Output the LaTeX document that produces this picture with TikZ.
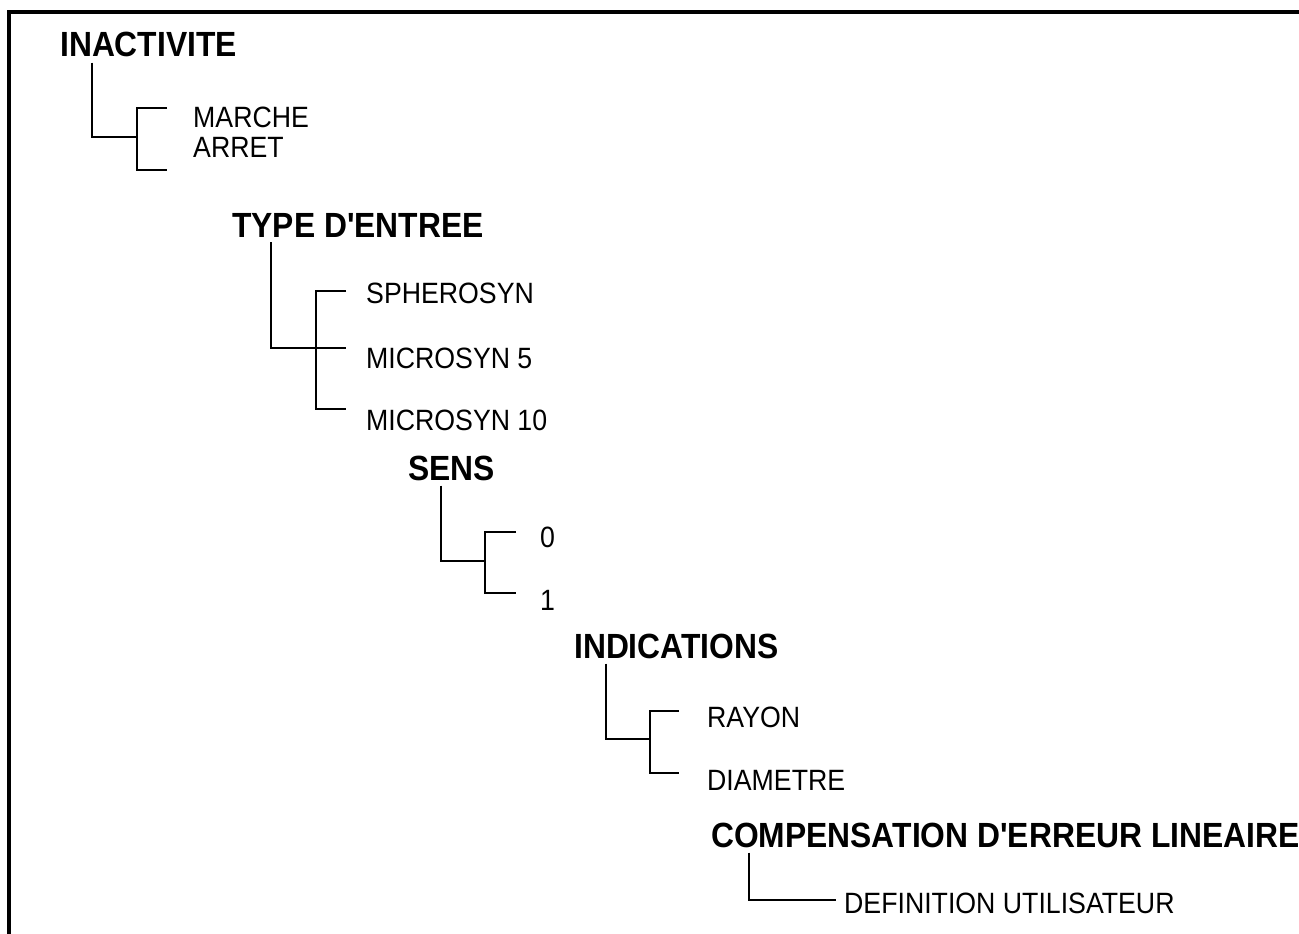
\documentclass[tikz,border=0pt]{standalone}
\usepackage{fontspec}
\usepackage{graphicx}
\setmainfont{Liberation Sans}[Ligatures=TeXOff]
\newcommand\vstr[1]{\scalebox{1}[1.1]{#1}}
\begin{document}
\begin{tikzpicture}[x=1pt,y=-1pt,
  lbl/.style={anchor=base west, inner xsep=0pt, inner ysep=0pt, font=\fontsize{26.7}{30}\selectfont},
  head/.style={anchor=base west, inner xsep=0pt, inner ysep=5pt, font=\bfseries\fontsize{31.8}{36}\selectfont},
  conn/.style={line width=2.9pt, line join=miter},
  frame/.style={line width=3.2pt}]
\useasboundingbox (0,0) rectangle (1299,934);
% frame (top and left edges only)
\coordinate (fa) at (9,936);
\coordinate (fb) at (9,12);
\coordinate (fc) at (1302,12);
\draw[frame] (fa) -- (fb) -- (fc);

% headings
\node[head] (inact) at (60,57) {\vstr{INACTIVITE}};
\node[head] (type) at (232,237) {\vstr{TYPE D'ENTREE}};
\node[head] (sens) at (408,480) {\vstr{SENS}};
\node[head] (indic) at (574,658) {\vstr{INDICATIONS}};
\node[head] (comp) at (711,847) {\vstr{COMPENSATION D'ERREUR LINEAIRE}};

% options
\node[lbl] (marche) at (193,128) {\vstr{MARCHE}};
\node[lbl] (arret) at (193,157) {\vstr{ARRET}};
\node[lbl] (sph) at (366,303) {\vstr{SPHEROSYN}};
\node[lbl] (mic5) at (366,368) {\vstr{MICROSYN 5}};
\node[lbl] (mic10) at (366,430) {\vstr{MICROSYN 10}};
\node[lbl] (zero) at (540,547) {\vstr{0}};
\node[lbl] (one) at (540,610) {\vstr{1}};
\node[lbl] (rayon) at (707,727) {\vstr{RAYON}};
\node[lbl] (diam) at (707,790) {\vstr{DIAMETRE}};
\node[lbl] (defu) at (844,913) {\vstr{DEFINITION UTILISATEUR}};

% tree 1
\coordinate (c1) at (92,137);
\coordinate (m1) at (137,137);
\coordinate (t1a) at (167,108);
\coordinate (t1b) at (167,170);
\draw[conn] (c1 |- inact.south) -- (c1) -- (m1);
\draw[conn] (t1a) -| (m1) |- (t1b);

% tree 2
\coordinate (c2) at (271,348);
\coordinate (m2) at (316,348);
\coordinate (e2) at (346,348);
\coordinate (t2a) at (346,291);
\coordinate (t2b) at (346,409);
\draw[conn] (c2 |- type.south) -- (c2) -- (e2);
\draw[conn] (t2a) -| (m2) |- (t2b);

% tree 3
\coordinate (c3) at (441,561);
\coordinate (m3) at (485,561);
\coordinate (t3a) at (516,532);
\coordinate (t3b) at (516,593);
\draw[conn] (c3 |- sens.south) -- (c3) -- (m3);
\draw[conn] (t3a) -| (m3) |- (t3b);

% tree 4
\coordinate (c4) at (606,739);
\coordinate (m4) at (650,739);
\coordinate (t4a) at (679,711);
\coordinate (t4b) at (679,773);
\draw[conn] (c4 |- indic.south) -- (c4) -- (m4);
\draw[conn] (t4a) -| (m4) |- (t4b);

% tree 5
\coordinate (c5) at (749,900);
\coordinate (e5) at (836,900);
\draw[conn] (c5 |- comp.south) -- (c5) -- (e5);
\end{tikzpicture}
\end{document}
